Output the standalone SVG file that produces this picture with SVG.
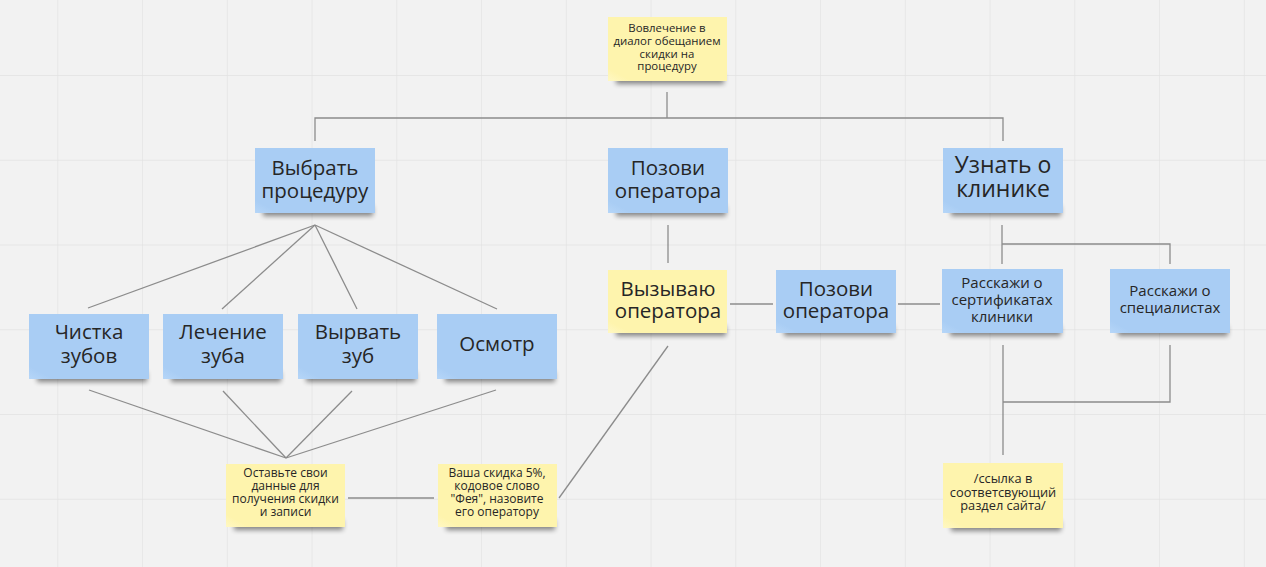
<svg xmlns="http://www.w3.org/2000/svg" width="1266" height="567" viewBox="0 0 1266 567">
<defs>
<filter id="sh" x="-20%" y="-50%" width="140%" height="200%"><feGaussianBlur stdDeviation="2.5"/></filter>
<linearGradient id="gb" x1="0" y1="1" x2="0.4" y2="0.6"><stop offset="0" stop-color="#b6d6f8"/><stop offset="0.25" stop-color="#a9cdf4"/><stop offset="1" stop-color="#a9cdf4"/></linearGradient>
<linearGradient id="gy" x1="0" y1="1" x2="0.4" y2="0.6"><stop offset="0" stop-color="#fff8c4"/><stop offset="0.25" stop-color="#fef4ad"/><stop offset="1" stop-color="#fef4ad"/></linearGradient>
<pattern id="grid" x="57.3" y="75" width="84.75" height="84.75" patternUnits="userSpaceOnUse">
<path d="M0 0V84.75M0 0H84.75" fill="none" stroke="#e2e2e2" stroke-width="1.4"/>
</pattern>
</defs>
<style>
.shadow{fill:#000;opacity:.45;filter:url(#sh)}
.blue{fill:url(#gb)}
.yel{fill:url(#gy)}
text{font-family:"Open Sans","Noto Sans","DejaVu Sans",sans-serif;fill:#262626;text-anchor:middle}
.big{font-size:20.5px}
.huge{font-size:23px}
.mid{font-size:15px}
.sm{font-size:12px}
.con line,.con path{stroke:#8c8c8c;stroke-width:1.3;fill:none}
</style>
<rect width="1266" height="567" fill="#f2f2f2"/>
<rect width="1266" height="567" fill="url(#grid)"/>
<g class="con">
<line x1="667" y1="92" x2="667" y2="118"/>
<path d="M315 141V118H1003V141"/>
<line x1="315" y1="225" x2="88" y2="308"/>
<line x1="315" y1="225" x2="222" y2="309"/>
<line x1="315" y1="225" x2="357" y2="309"/>
<line x1="315" y1="225" x2="497" y2="309"/>
<line x1="89" y1="390" x2="286" y2="458"/>
<line x1="223" y1="391" x2="286" y2="458"/>
<line x1="352" y1="391" x2="286" y2="458"/>
<line x1="496" y1="390" x2="286" y2="458"/>
<line x1="348" y1="498" x2="434" y2="498"/>
<line x1="668" y1="346" x2="559" y2="498"/>
<line x1="668" y1="225" x2="668" y2="263"/>
<line x1="730" y1="304" x2="773" y2="304"/>
<line x1="898" y1="304" x2="940" y2="304"/>
<line x1="1002" y1="225" x2="1002" y2="264"/>
<path d="M1002 244H1170V264"/>
<path d="M1003 345V455M1170 345V402H1003"/>
</g>
<g id="n-top"><rect class="shadow" x="616" y="74" width="108" height="10"/><rect class="yel" x="608" y="17" width="119" height="64"/>
<text class="sm" style="font-size:11.4px"><tspan x="667" y="32">Вовлечение в</tspan><tspan x="667" y="45">диалог обещанием</tspan><tspan x="667" y="57.5">скидки на</tspan><tspan x="667" y="70">процедуру</tspan></text></g>
<g id="n-vybrat"><rect class="shadow" x="263" y="206" width="110" height="10"/><rect class="blue" x="255" y="148" width="120" height="65"/>
<text class="big"><tspan x="315" y="175">Выбрать</tspan><tspan x="315" y="198">процедуру</tspan></text></g>
<g id="n-pozovi1"><rect class="shadow" x="616" y="206" width="110" height="10"/><rect class="blue" x="608" y="148" width="120" height="65"/>
<text class="big"><tspan x="668" y="175">Позови</tspan><tspan x="668" y="198">оператора</tspan></text></g>
<g id="n-uznat"><rect class="shadow" x="951" y="206" width="110" height="10"/><rect class="blue" x="943" y="148" width="120" height="65"/>
<text class="huge"><tspan x="1003" y="173">Узнать о</tspan><tspan x="1003" y="197">клинике</tspan></text></g>
<g id="n-chistka"><rect class="shadow" x="37" y="372" width="110" height="10"/><rect class="blue" x="29" y="314" width="120" height="65"/>
<text class="big"><tspan x="89" y="339">Чистка</tspan><tspan x="89" y="363">зубов</tspan></text></g>
<g id="n-lechenie"><rect class="shadow" x="171" y="372" width="110" height="10"/><rect class="blue" x="163" y="314" width="120" height="65"/>
<text class="big"><tspan x="223" y="339">Лечение</tspan><tspan x="223" y="363">зуба</tspan></text></g>
<g id="n-vyrvat"><rect class="shadow" x="306" y="372" width="110" height="10"/><rect class="blue" x="298" y="314" width="120" height="65"/>
<text class="big"><tspan x="358" y="339">Вырвать</tspan><tspan x="358" y="363">зуб</tspan></text></g>
<g id="n-osmotr"><rect class="shadow" x="445" y="372" width="110" height="10"/><rect class="blue" x="437" y="314" width="120" height="65"/>
<text class="big" x="497" y="351">Осмотр</text></g>
<g id="n-vyzyvayu"><rect class="shadow" x="616" y="326" width="110" height="10"/><rect class="yel" x="608" y="270" width="119" height="63"/>
<text class="big"><tspan x="668" y="296">Вызываю</tspan><tspan x="668" y="318">оператора</tspan></text></g>
<g id="n-pozovi2"><rect class="shadow" x="784" y="326" width="110" height="10"/><rect class="blue" x="776" y="270" width="120" height="63"/>
<text class="big"><tspan x="836" y="296">Позови</tspan><tspan x="836" y="318">оператора</tspan></text></g>
<g id="n-sert"><rect class="shadow" x="950" y="326" width="111" height="10"/><rect class="blue" x="942" y="269" width="121" height="64"/>
<text class="mid"><tspan x="1002" y="288">Расскажи о</tspan><tspan x="1002" y="305">сертификатах</tspan><tspan x="1002" y="322">клиники</tspan></text></g>
<g id="n-spec"><rect class="shadow" x="1118" y="326" width="110" height="10"/><rect class="blue" x="1110" y="269" width="120" height="64"/>
<text class="mid"><tspan x="1170" y="296">Расскажи о</tspan><tspan x="1170" y="313">специалистах</tspan></text></g>
<g id="n-ostavte"><rect class="shadow" x="234" y="520" width="109" height="10"/><rect class="yel" x="226" y="464" width="119" height="63"/>
<text class="sm"><tspan x="285.5" y="477">Оставьте свои</tspan><tspan x="285.5" y="490">данные для</tspan><tspan x="285.5" y="503">получения скидки</tspan><tspan x="285.5" y="516">и записи</tspan></text></g>
<g id="n-vasha"><rect class="shadow" x="446" y="520" width="109" height="10"/><rect class="yel" x="438" y="464" width="119" height="63"/>
<text class="sm"><tspan x="497" y="477">Ваша скидка 5%,</tspan><tspan x="497" y="490">кодовое слово</tspan><tspan x="497" y="503">"Фея", назовите</tspan><tspan x="497" y="516">его оператору</tspan></text></g>
<g id="n-ssylka"><rect class="shadow" x="951" y="521" width="110" height="10"/><rect class="yel" x="943" y="463" width="120" height="65"/>
<text class="sm" style="font-size:12.8px"><tspan x="1003" y="483">/ссылка в</tspan><tspan x="1003" y="497">соответсвующий</tspan><tspan x="1003" y="510">раздел сайта/</tspan></text></g>
</svg>
